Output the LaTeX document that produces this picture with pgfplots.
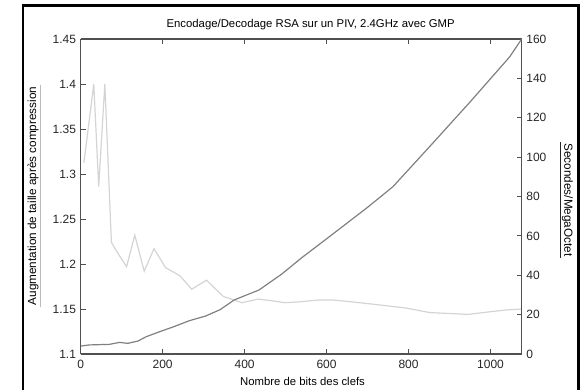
\documentclass[border=0pt]{standalone}
\usepackage{pgfplots}
\pgfplotsset{compat=1.18}
\usepackage{fontspec}
\setmainfont{Liberation Sans}
\definecolor{darkser}{HTML}{808080}
\definecolor{lightser}{HTML}{D4D4D4}
\definecolor{axcol}{HTML}{505050}
\begin{document}
\begin{tikzpicture}
\useasboundingbox (-60.5pt,-26.25pt) rectangle (377.5pt,265.5pt);
\pgfplotsset{
  every axis/.style={
    scale only axis, width=330.75pt, height=236.25pt,
    xmin=0, xmax=1076,
    axis line style={axcol, line width=0.8pt},
    major tick length=3.75pt,
    tick style={axcol, line width=0.7pt},
    tick label style={font=\fontsize{9}{10}\selectfont, text=black!85},
    /pgf/number format/assume math mode=true,
    /pgf/number format/1000 sep={},
  }
}
\begin{axis}[
  ymin=1.1, ymax=1.45,
  ytick={1.1,1.15,1.2,1.25,1.3,1.35,1.4,1.45},
  yticklabel style={/pgf/number format/fixed, /pgf/number format/precision=2},
  xtick={0,200,400,600,800,1000},
  xtick pos=both, ytick pos=left,
  tick align=inside,
  axis y line*=left,
  xticklabel style={yshift=-1pt},
]
\addplot[lightser, line width=0.9pt] coordinates {
(8,1.3125) (32,1.40) (44,1.286) (59,1.40) (75,1.224) (92,1.211) (112,1.197)
(132,1.232) (155,1.192) (179,1.217) (207,1.196) (242,1.187) (271,1.172)
(307,1.182) (348,1.164) (393,1.157) (433,1.161) (470,1.159) (498,1.157)
(535,1.158) (580,1.160) (616,1.160) (660,1.158) (720,1.155) (795,1.151)
(852,1.146) (900,1.145) (945,1.144) (1000,1.147) (1040,1.149) (1076,1.150)
};
\end{axis}
\begin{axis}[
  ymin=0, ymax=160,
  ytick={0,20,40,60,80,100,120,140,160},
  axis y line*=right,
  axis x line=none,
  tick align=inside,
  ytick pos=right,
]
\addplot[darkser, line width=0.9pt] coordinates {
(0,4) (20,4.6) (70,4.9) (95,5.9) (115,5.4) (140,6.6) (160,8.8) (195,11.5)
(225,13.7) (265,16.9) (305,19.3) (340,22.5) (375,27.5) (435,32.5) (490,40.5)
(540,49) (600,58.5) (700,74.5) (762,85) (850,105) (950,128) (1047,151) (1076,160)
};
\end{axis}
\node[font=\fontsize{8.5}{10}\selectfont] at (172.5pt,246.75pt) {Encodage/Decodage RSA sur un PIV, 2.4GHz avec GMP};
\node[font=\fontsize{8.5}{10}\selectfont] at (166.4pt,-20.25pt) {Nombre de bits des clefs};
\node[font=\fontsize{8.8}{10}\selectfont, rotate=90, inner sep=1pt] (ll) at (-35.8pt,118.5pt) {Augmentation de taille après compression};
\draw[lightser!70!gray, line width=0.8pt] (ll.south west) -- (ll.south east);
\node[font=\fontsize{8.8}{10}\selectfont, rotate=-90, inner sep=1pt] (rl) at (365pt,115.5pt) {Secondes/MegaOctet};
\draw[black!85, line width=0.8pt] (rl.south west) -- (rl.south east);
\draw[black, line width=2pt] (-43.3pt,-40pt) -- (-43.3pt,261.4pt) -- (373.4pt,261.4pt) -- (373.4pt,-40pt);
\end{tikzpicture}
\end{document}
